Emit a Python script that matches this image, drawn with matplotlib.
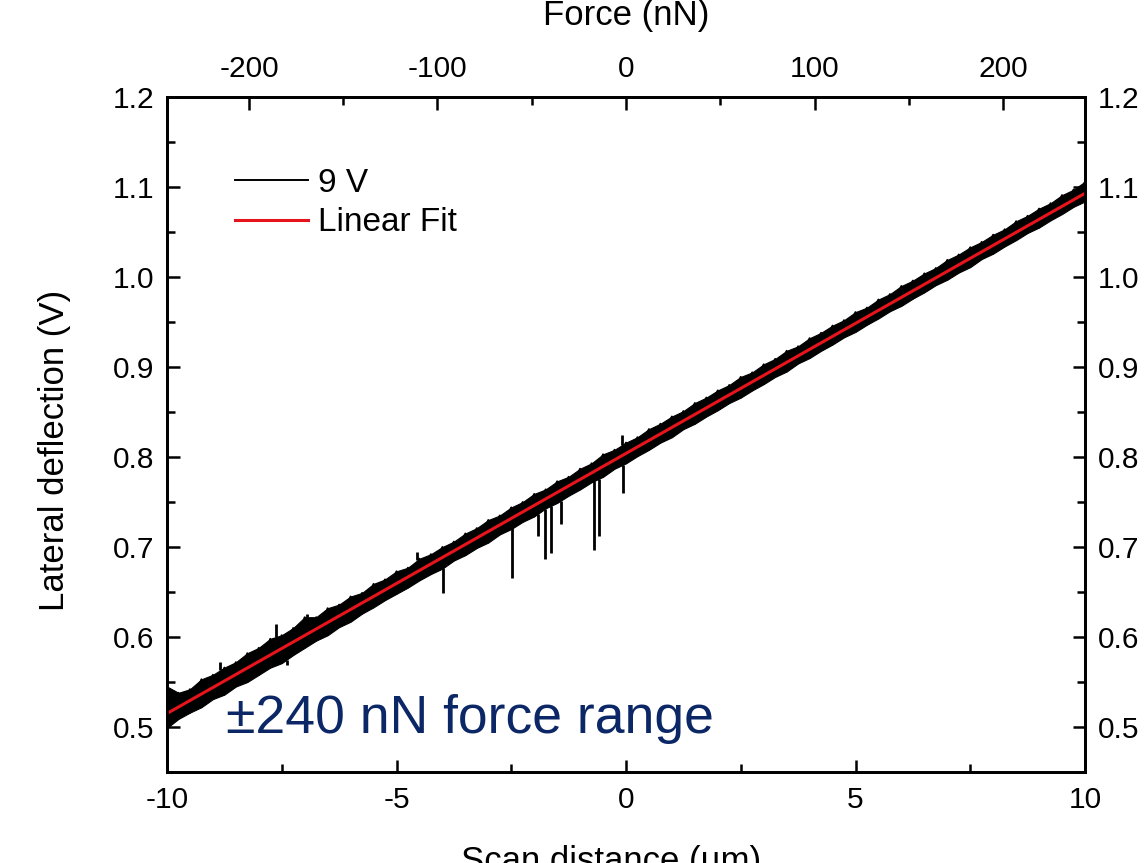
import numpy as np
import matplotlib
matplotlib.use("Agg")
import matplotlib.pyplot as plt
from matplotlib.ticker import MultipleLocator

plt.rcParams['font.family'] = ['Liberation Sans', 'DejaVu Sans']

# ---- data ----
scan_x = [-10.0, -9.75, -9.5, -9.25, -9.0, -8.75, -8.5, -8.25, -8.0, -7.75,
          -7.5, -7.25, -7.0, -6.75, -6.5, -6.25, -6.0, -5.75, -5.5, -5.25,
          -5.0, -4.75, -4.5, -4.25, -4.0, -3.75, -3.5, -3.25, -3.0, -2.75,
          -2.5, -2.25, -2.0, -1.75, -1.5, -1.25, -1.0, -0.75, -0.5, -0.25,
          0.0, 0.25, 0.5, 0.75, 1.0, 1.25, 1.5, 1.75, 2.0, 2.25,
          2.5, 2.75, 3.0, 3.25, 3.5, 3.75, 4.0, 4.25, 4.5, 4.75,
          5.0, 5.25, 5.5, 5.75, 6.0, 6.25, 6.5, 6.75, 7.0, 7.25,
          7.5, 7.75, 8.0, 8.25, 8.5, 8.75, 9.0, 9.25, 9.5, 9.75, 10.0]

signal_upper = [0.545, 0.538, 0.542, 0.553, 0.558, 0.566, 0.572, 0.582, 0.588, 0.598,
                0.602, 0.610, 0.622, 0.622, 0.632, 0.636, 0.645, 0.649, 0.659, 0.664,
                0.673, 0.677, 0.687, 0.692, 0.700, 0.706, 0.715, 0.721, 0.730, 0.735,
                0.744, 0.750, 0.759, 0.764, 0.773, 0.778, 0.787, 0.793, 0.803, 0.808,
                0.816, 0.822, 0.831, 0.837, 0.845, 0.851, 0.860, 0.866, 0.874, 0.880,
                0.889, 0.894, 0.903, 0.909, 0.918, 0.923, 0.932, 0.938, 0.946, 0.952,
                0.961, 0.966, 0.975, 0.981, 0.990, 0.996, 1.004, 1.010, 1.019, 1.025,
                1.033, 1.039, 1.047, 1.053, 1.062, 1.068, 1.076, 1.082, 1.091, 1.097, 1.106]

signal_lower = [0.499, 0.509, 0.516, 0.522, 0.531, 0.536, 0.545, 0.550, 0.558, 0.566,
                0.571, 0.580, 0.588, 0.596, 0.602, 0.611, 0.617, 0.626, 0.633, 0.641,
                0.648, 0.655, 0.663, 0.670, 0.676, 0.685, 0.691, 0.699, 0.705, 0.714,
                0.720, 0.728, 0.734, 0.743, 0.749, 0.757, 0.764, 0.772, 0.778, 0.787,
                0.793, 0.801, 0.808, 0.816, 0.822, 0.831, 0.837, 0.845, 0.852, 0.860,
                0.866, 0.874, 0.881, 0.889, 0.895, 0.904, 0.910, 0.918, 0.925, 0.933,
                0.939, 0.947, 0.954, 0.962, 0.968, 0.976, 0.983, 0.991, 0.997, 1.005,
                1.011, 1.020, 1.026, 1.034, 1.041, 1.049, 1.055, 1.063, 1.070, 1.078, 1.084]

spike_down_x = [-3.99, -2.48, -1.92, -1.76, -1.63, -1.42, -0.70, -0.59, -0.07, -7.39]
spike_down_y = [0.649, 0.666, 0.712, 0.687, 0.693, 0.726, 0.697, 0.712, 0.760, 0.569]
spike_up_x = [-8.85, -7.63, -6.95, -4.55, -0.09]
spike_up_y = [0.572, 0.614, 0.626, 0.694, 0.824]

fit_x = [-10.0, 10.0]
fit_y = [0.515, 1.093]

force_ticks = [-200, -100, 0, 100, 200]
force_lim = 243.5
y_ticks = [0.5, 0.6, 0.7, 0.8, 0.9, 1.0, 1.1, 1.2]
x_ticks = [-10, -5, 0, 5, 10]

# ---- figure ----
W, H = 1145, 863
fig = plt.figure(figsize=(W / 100, H / 100), dpi=100)
ax = fig.add_axes([167 / W, 1 - 772 / H, (1085 - 167) / W, (772 - 97) / H])

sx = np.array(scan_x)
up = np.array(signal_upper)
lo = np.array(signal_lower)

ax.fill_between(sx, lo, up, color='black', lw=0.8, zorder=2)
zig_x = np.ravel(np.column_stack([sx, sx]))
zig_y = np.ravel(np.column_stack([up, lo]))
ax.plot(zig_x, zig_y, color='black', lw=1.4, label='9 V', zorder=2)
ax.vlines(spike_down_x, spike_down_y, np.interp(spike_down_x, sx, lo),
          color='black', lw=2.0, zorder=2)
ax.vlines(spike_up_x, np.interp(spike_up_x, sx, up), spike_up_y,
          color='black', lw=2.0, zorder=2)
ax.plot(fit_x, fit_y, color='#e8141b', lw=2.2, label='Linear Fit', zorder=3)

ax.set_xlim(-10, 10)
ax.set_ylim(0.45, 1.2)
ax.set_xticks(x_ticks)
ax.set_yticks(y_ticks)
ax.set_xticklabels([str(t) for t in x_ticks])
ax.set_yticklabels([f"{t:.1f}" for t in y_ticks])
ax.xaxis.set_minor_locator(MultipleLocator(2.5))
ax.yaxis.set_minor_locator(MultipleLocator(0.05))
ax.tick_params(which='both', direction='in', width=1.8, labelsize=21.5,
               right=True, labelright=True, top=False)
ax.tick_params(which='major', length=9)
ax.tick_params(which='minor', length=5.5)
ax.tick_params(axis='y', pad=9)
ax.tick_params(axis='x', pad=10)
for s in ax.spines.values():
    s.set_linewidth(2.0)

# top force axis
ax2 = ax.twiny()
ax2.set_xlim(-force_lim, force_lim)
ax2.set_xticks(force_ticks)
ax2.set_xticklabels([str(t) for t in force_ticks])
ax2.xaxis.set_minor_locator(MultipleLocator(50))
ax2.tick_params(which='both', direction='in', width=1.8, labelsize=21.5, pad=10)
ax2.tick_params(which='major', length=9)
ax2.tick_params(which='minor', length=5.5)
for s in ax2.spines.values():
    s.set_linewidth(2.0)

fig.text(55 / W, 1 - 450 / H, 'Lateral deflection (V)', fontsize=25,
         rotation=90, ha='center', va='center')
fig.text(626 / W, 1 - 25 / H, 'Force (nN)', fontsize=25, ha='center', va='baseline')
fig.text(611 / W, 1 - 871 / H, 'Scan distance (\u00b5m)', fontsize=25,
         ha='center', va='baseline')

ax.text(-8.72, 0.4935, '\u00b1240 nN force range', fontsize=38.5, color='#0c2766',
        ha='left', va='baseline', zorder=4)

leg = ax.legend(loc='upper left', bbox_to_anchor=(0.074, 0.895), frameon=False,
                fontsize=24, handlelength=2.2, handletextpad=0.3,
                labelspacing=0.25, borderaxespad=0, borderpad=0)

fig.savefig('out.png', dpi=100)
